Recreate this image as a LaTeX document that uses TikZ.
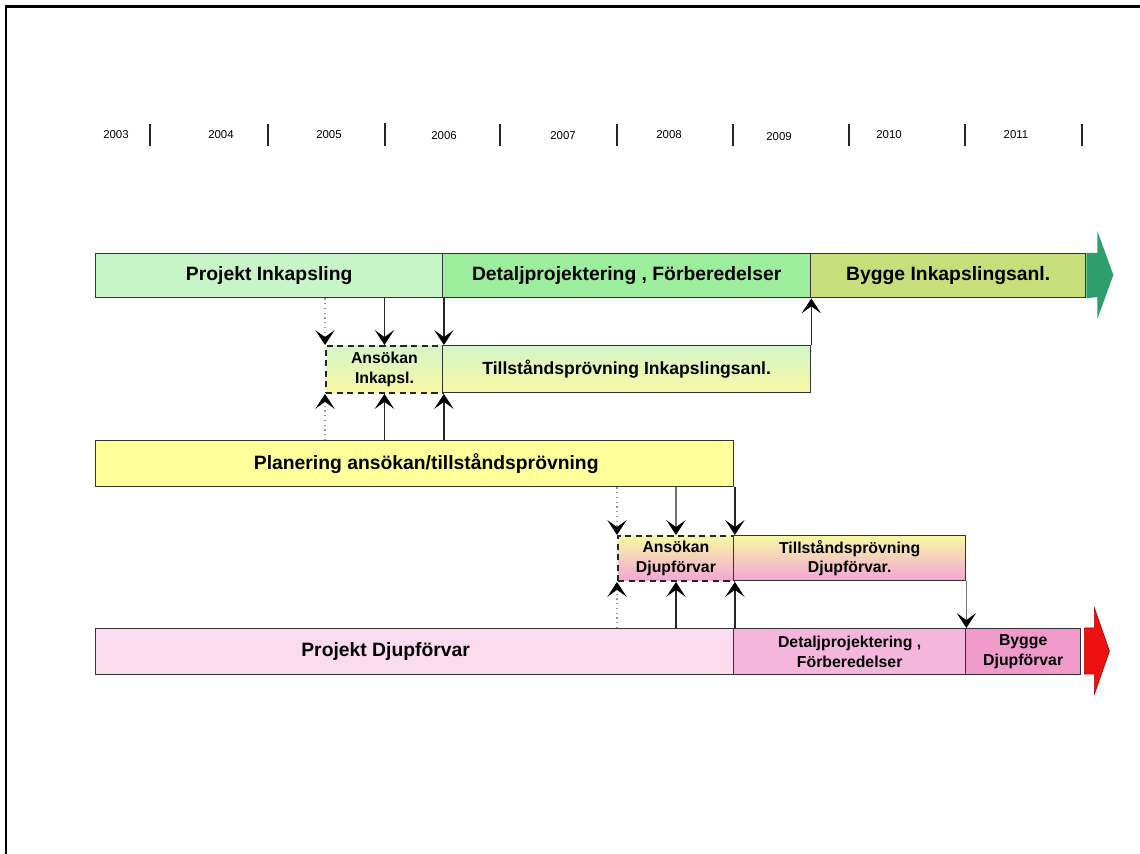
\documentclass[tikz,border=0pt]{standalone}
\usepackage{fontspec}
\setmainfont{Liberation Sans}
\usetikzlibrary{arrows.meta}

\definecolor{pinkgreen}{HTML}{C8F5C8}
\definecolor{detgreen}{HTML}{9CEE9C}
\definecolor{byggolive}{HTML}{C8DE7A}
\definecolor{arrgreen}{HTML}{2E9E6A}
\definecolor{plyellow}{HTML}{FFFF99}
\definecolor{gradgreen}{HTML}{D4F5C8}
\definecolor{gradyellow}{HTML}{F8F8A4}
\definecolor{gradpink}{HTML}{F2A6D6}
\definecolor{pdjpink}{HTML}{FADCEE}
\definecolor{detpink}{HTML}{F5B6DE}
\definecolor{byggpink}{HTML}{F09ACC}
\definecolor{arrred}{HTML}{EE1111}

\tikzset{
  bar/.style={draw=black!80, line width=0.8pt, inner sep=0pt, anchor=north west,
    align=center, font=\bfseries\fontsize{11}{13}\selectfont},
  smallbar/.style={bar, font=\bfseries\fontsize{9}{11}\selectfont},
  ansbox/.style={smallbar, draw=black!85, line width=1.1pt, dash pattern=on 3.5pt off 2.5pt},
  conn/.style={draw=black!85, line width=0.7pt, -{Stealth[length=8.5pt,width=11pt,inset=4pt,color=black]}},
  greyconn/.style={conn, draw=black!55},
  dotconn/.style={conn, draw=black!40, dotted},
  yearlbl/.style={font=\fontsize{6.5}{7}\selectfont},
  yeartick/.style={line width=1.2pt, black!85},
}

\begin{document}
\begin{tikzpicture}[x=0.02cm, y=-0.02cm]
  \useasboundingbox (0,0) rectangle (1140,854);
  % frame
  \draw[line width=1.7pt] (6,854) -- (6,7) -- (1140,7);

  % years
  \node[yearlbl] (y2003) at (116,135) {2003};
  \node[yearlbl] (y2004) at (221,135) {2004};
  \node[yearlbl] (y2005) at (329,135) {2005};
  \node[yearlbl] (y2006) at (444,136) {2006};
  \node[yearlbl] (y2007) at (563,136) {2007};
  \node[yearlbl] (y2008) at (669,135) {2008};
  \node[yearlbl] (y2009) at (779,137) {2009};
  \node[yearlbl] (y2010) at (889,135) {2010};
  \node[yearlbl] (y2011) at (1016,135) {2011};
  \draw[yeartick] (150,124) -- (150,146);
  \draw[yeartick] (268,124) -- (268,146);
  \draw[yeartick] (385,123) -- (385,146);
  \draw[yeartick] (500,124) -- (500,146);
  \draw[yeartick] (617,124) -- (617,146);
  \draw[yeartick] (733,124) -- (733,146);
  \draw[yeartick] (849,124) -- (849,146);
  \draw[yeartick] (965,124) -- (965,146);
  \draw[yeartick] (1082,124) -- (1082,146);

  % Inkapsling
  \node[bar, fill=pinkgreen, minimum width=6.94cm, minimum height=0.88cm] (pinkap) at (95,253) {Projekt Inkapsling};
  \node[bar, fill=detgreen, minimum width=7.36cm, minimum height=0.88cm] (detinkap) at (442,253) {Detaljprojektering , Förberedelser};
  \node[bar, fill=byggolive, minimum width=5.50cm, minimum height=0.88cm] (bygginkap) at (810,253) {Bygge Inkapslingsanl.};
  \fill[arrgreen] (bygginkap.north east) -- ++(11,0) -- ++(0,-22) -- ++(16,44) -- ++(-16,44) -- ++(0,-22) -- (bygginkap.south east) -- cycle;

  \node[ansbox, top color=gradgreen, bottom color=gradyellow, minimum width=2.34cm, minimum height=0.94cm] (ansinkap) at (325,345) {Ansökan\\Inkapsl.};
  \node[bar, top color=gradgreen, bottom color=gradyellow, font=\bfseries\fontsize{10}{12}\selectfont, minimum width=7.36cm, minimum height=0.94cm] (tillinkap) at (442,345) {Tillståndsprövning Inkapslingsanl.};

  % Planering
  \node[bar, fill=plyellow, minimum width=12.76cm, minimum height=0.92cm] (planering) at (95,440) {\hspace{1.2em}Planering ansökan/tillståndsprövning};

  % Djupförvar
  \node[ansbox, top color=gradyellow, bottom color=gradpink, minimum width=2.32cm, minimum height=0.90cm] (ansdjup) at (617,535) {Ansökan\\Djupförvar};
  \node[smallbar, top color=gradyellow, bottom color=gradpink, minimum width=4.64cm, minimum height=0.90cm] (tilldjup) at (733,535) {Tillståndsprövning\\Djupförvar.};

  \node[bar, fill=pdjpink, minimum width=12.76cm, minimum height=0.92cm] (pdjup) at (95,628) {Projekt Djupförvar\hspace{3em}};
  \node[smallbar, fill=detpink, minimum width=4.64cm, minimum height=0.92cm] (detdjup) at (733,628) {Detaljprojektering ,\\Förberedelser};
  \node[smallbar, fill=byggpink, minimum width=2.30cm, minimum height=0.92cm] (byggdjup) at (965,628) {Bygge\\Djupförvar};
  \filldraw[fill=arrred, draw=red!70!black, line width=0.4pt] (byggdjup.north east) ++(3,0) -- ++(10,0) -- ++(0,-20) -- ++(15,43) -- ++(-15,43) -- ++(0,-20) -- ++(-10,0) -- cycle;

  % connectors, upper part
  \draw[dotconn] (ansinkap.west |- pinkap.south) -- (ansinkap.north west);
  \draw[conn] (ansinkap.north |- pinkap.south) -- (ansinkap.north);
  \draw[conn] (ansinkap.north east |- pinkap.south) -- (ansinkap.north east);
  \draw[dotconn] (ansinkap.west |- planering.north) -- (ansinkap.south west);
  \draw[conn] (ansinkap.south |- planering.north) -- (ansinkap.south);
  \draw[conn] (ansinkap.south east |- planering.north) -- (ansinkap.south east);
  \draw[conn] (tillinkap.north east) -- (tillinkap.north east |- detinkap.south);

  % connectors, lower part
  \draw[dotconn] (ansdjup.west |- planering.south) -- (ansdjup.north west);
  \draw[greyconn] (ansdjup.north |- planering.south) -- (ansdjup.north);
  \draw[conn] (ansdjup.north east |- planering.south) -- (ansdjup.north east);
  \draw[dotconn] (ansdjup.west |- pdjup.north) -- (ansdjup.south west);
  \draw[conn] (ansdjup.south |- pdjup.north) -- (ansdjup.south);
  \draw[conn] (ansdjup.south east |- pdjup.north) -- (ansdjup.south east);
  \draw[greyconn] (tilldjup.south east) -- (tilldjup.south east |- byggdjup.north);
\end{tikzpicture}
\end{document}
